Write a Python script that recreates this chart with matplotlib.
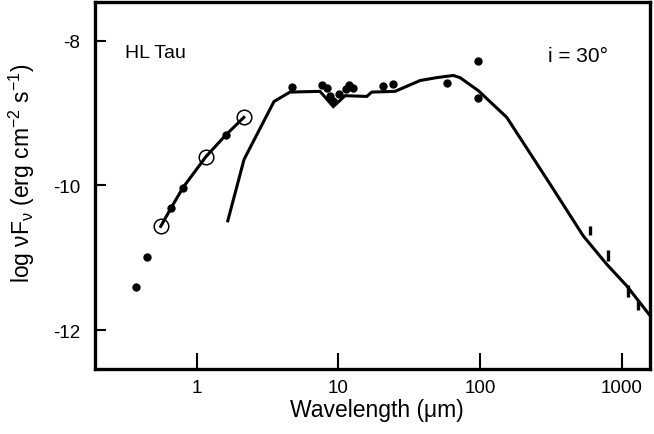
import matplotlib
matplotlib.use("Agg")
import matplotlib.pyplot as plt

plt.rcParams['font.family'] = ['Liberation Sans', 'DejaVu Sans']
plt.rcParams['mathtext.fontset'] = 'custom'
plt.rcParams['mathtext.rm'] = 'Liberation Sans'
plt.rcParams['mathtext.it'] = 'Liberation Sans'
plt.rcParams['axes.unicode_minus'] = False

# Model SED curve (wavelength in micron, log nuFnu)
model_wl = [1.656, 2.158, 3.51, 4.55, 7.41, 9.20, 11.14, 15.85, 17.18, 25.1,
            37.7, 49.4, 64.7, 72.1, 97.1, 154.2, 295, 535, 782, 1084, 1581]
model_f = [-10.49, -9.64, -8.84, -8.71, -8.70, -8.91, -8.76, -8.77, -8.71, -8.70,
           -8.55, -8.51, -8.48, -8.51, -8.69, -9.06, -9.91, -10.70, -11.09, -11.39, -11.80]

# Observed photometry (filled dots)
obs_wl = [0.371, 0.444, 0.66, 0.80, 1.61, 4.68, 7.62, 8.27, 8.72, 9.2, 10.1, 11.3,
          11.9, 12.7, 20.5, 24.2, 58, 97, 97]
obs_f = [-11.40, -10.99, -10.31, -10.03, -9.30, -8.64, -8.61, -8.66, -8.76, -8.83,
         -8.73, -8.67, -8.61, -8.65, -8.62, -8.60, -8.59, -8.28, -8.79]

# Open circles (scattered-light points)
circ_wl = [0.557, 1.16, 2.15]
circ_f = [-10.567, -9.604, -9.06]

# Line joining the optical/near-IR points
opt_wl = [0.557, 0.66, 0.80, 1.16, 1.61, 2.15]
opt_f = [-10.567, -10.31, -10.03, -9.604, -9.30, -9.06]

# Millimetre points with error bars
mm_wl = [597, 795, 1100, 1300]
mm_f = [-10.62, -10.97, -11.46, -11.65]
mm_err = [0.065, 0.07, 0.085, 0.07]

fig = plt.figure(figsize=(6.54, 4.35), dpi=100)
ax = fig.add_axes([0.1453, 0.1494, 0.8486, 0.8436])

ax.plot(model_wl, model_f, color='black', lw=2.2, solid_joinstyle='miter')
ax.plot(opt_wl, opt_f, color='black', lw=2.2)
ax.plot(circ_wl, circ_f, 'o', ms=10.5, mfc='none', mec='black', mew=1.1)
ax.plot(obs_wl, obs_f, 'o', ms=5, color='black')
ax.errorbar(mm_wl, mm_f, yerr=mm_err, fmt='none', ecolor='black', elinewidth=2.4, capsize=0)

ax.set_xscale('log')
ax.set_xlim(0.1915, 1581)
ax.set_ylim(-12.539, -7.465)
ax.set_xticks([1, 10, 100, 1000])
ax.set_xticklabels(['1', '10', '100', '1000'])
ax.xaxis.set_minor_locator(matplotlib.ticker.NullLocator())
ax.set_yticks([-8, -10, -12])
ax.set_yticklabels(['-8', '-10', '-12'])

ax.tick_params(axis='x', direction='in', length=11.5, width=1.5, labelsize=13.5, pad=7,
               top=False)
ax.tick_params(axis='y', direction='in', length=7.7, width=1.5, labelsize=13.5, pad=10.5,
               right=False)
for s in ax.spines.values():
    s.set_linewidth(2.4)

ax.set_xlabel('Wavelength (\u03bcm)', fontsize=16.5)
ax.xaxis.set_label_coords(0.508, -0.079)
ax.set_ylabel(r'log $\mathregular{\nu}$F$_{\mathregular{\nu}}$ (erg cm$^{\mathregular{-2}}$ s$^{\mathregular{-1}}$)',
              fontsize=16.5)
ax.yaxis.set_label_coords(-0.105, 0.537)

ax.text(0.312, -8.157, 'HL Tau', fontsize=14, va='center', ha='left')
ax.text(302, -8.2, 'i = 30\u00b0', fontsize=15, va='center', ha='left')

fig.savefig('out.png', dpi=100)
